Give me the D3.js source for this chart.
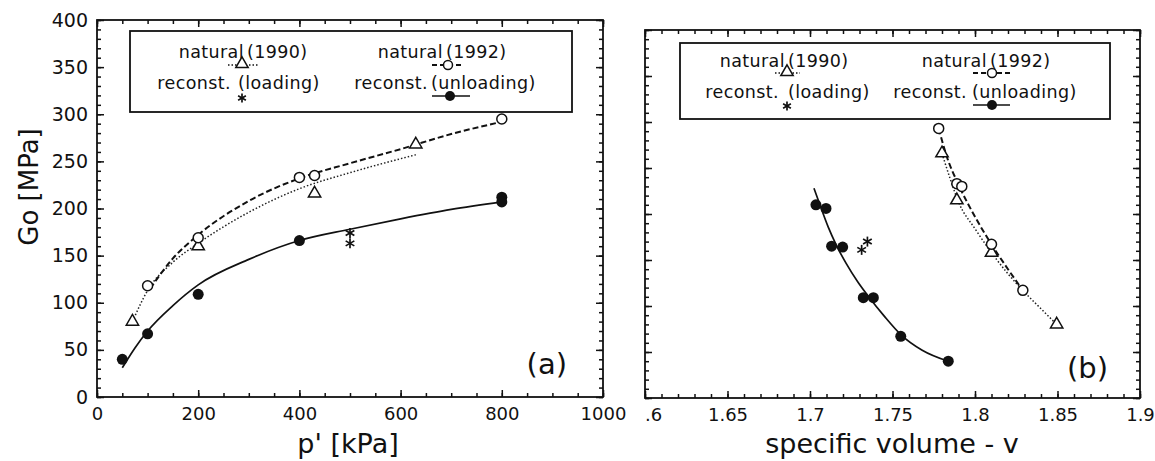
<!DOCTYPE html>
<html>
<head>
<meta charset="utf-8">
<script src="https://cdn.jsdelivr.net/npm/d3@7"></script>
<style>
  body { margin: 0; background: #fff; }
  text { font-family: "DejaVu Sans", sans-serif; fill: #111; }
</style>
</head>
<body>
<div id="chart"></div>
<script>
// ---- data ----
// panel (a): Go [MPa] against p' [kPa]
var nat1990P = [70, 200, 430, 630];
var nat1990G = [80, 160, 216, 268];
var nat1992P = [100, 200, 400, 430, 800];
var nat1992G = [118, 169, 233, 235, 295];
var unloadP = [50, 100, 200, 400, 800, 800];
var unloadG = [40, 67, 109, 166, 212, 207];
var loadP = [500, 500];
var loadG = [174, 163];

// fitted curves of panel (a)
var fitUnloadP = [50, 75, 100, 150, 200, 300, 400, 500, 600, 700, 800];
var fitUnloadG = [31, 52, 70, 97, 119, 146, 166, 178, 189, 199, 207];
var fit1992P = [105, 150, 200, 300, 400, 500, 600, 700, 800];
var fit1992G = [115, 147, 172, 208, 232, 248, 263, 279, 292];
var fit1990P = [70, 100, 150, 200, 300, 400, 500, 630];
var fit1990G = [80, 113, 143, 163, 196, 221, 238, 257];

// panel (b): Go [MPa] against specific volume v
var nat1990V = [1.780, 1.789, 1.810, 1.8495];
var nat1990Gv = [266, 215, 158, 80];
var nat1992V = [1.778, 1.789, 1.792, 1.810, 1.829];
var nat1992Gv = [293, 233, 230, 167, 117];
var unloadV = [1.7036, 1.7097, 1.7131, 1.7198, 1.7323, 1.7384, 1.755, 1.7838];
var unloadGv = [210, 206, 165, 164, 109, 109, 67, 40];
var loadV = [1.7313, 1.7348];
var loadGv = [161, 170];

// fitted curves of panel (b)
var fitUnloadV = [1.7024, 1.706, 1.711, 1.716, 1.722, 1.729, 1.736, 1.745, 1.755, 1.768, 1.7838];
var fitUnloadGv = [228, 210, 186, 166, 146, 126, 109, 89, 69, 52, 40];
var fit1992V = [1.778, 1.783, 1.790, 1.800, 1.810, 1.820, 1.829];
var fit1992Gv = [293, 262, 232, 197, 167, 140, 117];
var fit1990V = [1.780, 1.785, 1.790, 1.800, 1.810, 1.820, 1.830, 1.840, 1.8495];
var fit1990Gv = [266, 238, 213, 184, 158, 135, 115, 97, 80];

// ticks
var pTicks = [0, 200, 400, 600, 800, 1000];
var pMinor = d3.range(0, 1001, 50);
var gTicks = [0, 50, 100, 150, 200, 250, 300, 350, 400];
var gMinor = d3.range(0, 401, 10);
var vTicks = [1.6, 1.65, 1.7, 1.75, 1.8, 1.85, 1.9];
var vTickLabels = [".6", "1.65", "1.7", "1.75", "1.8", "1.85", "1.9"];
var vMinor = d3.range(160, 191).map(d => d / 100);

var legendLabels = [["natural", "(1990)"], ["natural", "(1992)"],
                    ["reconst.", "(loading)"], ["reconst.", "(unloading)"]];

function zip(a, b) { return a.map((d, i) => [d, b[i]]); }

// ---- svg ----
var svg = d3.select("#chart").append("svg")
  .attr("width", 1155)
  .attr("height", 461);

svg.append("rect").attr("width", 1155).attr("height", 461).attr("fill", "#fff");

var boxA = {left: 97, right: 603, top: 20, bottom: 397};
var boxB = {left: 645, right: 1140, top: 30, bottom: 398};

var xA = d3.scaleLinear().domain([0, 1000]).range([boxA.left, boxA.right]);
var yA = d3.scaleLinear().domain([0, 400]).range([boxA.bottom, boxA.top]);
var xB = d3.scaleLinear().domain([1.6, 1.9]).range([boxB.left, boxB.right]);
var yB = d3.scaleLinear().domain([0, 400]).range([boxB.bottom, boxB.top]);

// axes with inward ticks on all four sides
function drawAxes(x, y, box, xMajor, xMinor, xFmt, yLabels) {
  var g = svg.append("g");

  g.append("g").attr("class", "xlab").attr("transform", `translate(0,${box.bottom})`)
    .call(d3.axisBottom(x).tickValues(xMajor).tickSize(-7).tickSizeOuter(0).tickPadding(10).tickFormat(xFmt));
  g.append("g").attr("transform", `translate(0,${box.bottom})`)
    .call(d3.axisBottom(x).tickValues(xMinor).tickSize(-4).tickSizeOuter(0).tickFormat(""));
  g.append("g").attr("transform", `translate(0,${box.top})`)
    .call(d3.axisTop(x).tickValues(xMajor).tickSize(-7).tickSizeOuter(0).tickFormat(""));
  g.append("g").attr("transform", `translate(0,${box.top})`)
    .call(d3.axisTop(x).tickValues(xMinor).tickSize(-4).tickSizeOuter(0).tickFormat(""));

  g.append("g").attr("class", "ylab").attr("transform", `translate(${box.left},0)`)
    .call(d3.axisLeft(y).tickValues(gTicks).tickSize(-7).tickSizeOuter(0).tickPadding(9)
      .tickFormat(yLabels ? d3.format("d") : ""));
  g.append("g").attr("transform", `translate(${box.left},0)`)
    .call(d3.axisLeft(y).tickValues(gMinor).tickSize(-4).tickSizeOuter(0).tickFormat(""));
  g.append("g").attr("transform", `translate(${box.right},0)`)
    .call(d3.axisRight(y).tickValues(gTicks).tickSize(-7).tickSizeOuter(0).tickFormat(""));
  g.append("g").attr("transform", `translate(${box.right},0)`)
    .call(d3.axisRight(y).tickValues(gMinor).tickSize(-4).tickSizeOuter(0).tickFormat(""));

  g.selectAll(".domain").remove();
  g.selectAll(".tick line").attr("stroke", "#111").attr("stroke-width", 1.5);
  g.selectAll("g").attr("font-family", null).attr("font-size", null);
  g.selectAll(".xlab .tick text").attr("fill", "#111").style("font-size", "18px");
  g.selectAll(".ylab .tick text").attr("fill", "#111").style("font-size", "19px");

  g.append("rect")
    .attr("x", box.left).attr("y", box.top)
    .attr("width", box.right - box.left).attr("height", box.bottom - box.top)
    .attr("fill", "none").attr("stroke", "#111").attr("stroke-width", 1.8);
  return g;
}

drawAxes(xA, yA, boxA, pTicks, pMinor, d3.format("d"), true);
var axB = drawAxes(xB, yB, boxB, vTicks, vMinor, (d, i) => vTickLabels[i], false);
// the cut-off 1.6 label only shows ".6"
axB.selectAll(".tick text").filter(d => d === 1.6).attr("dx", 8);

// ---- markers ----
var triPath = d3.symbol(d3.symbolTriangle).size(66)();

function star(g, cx, cy, r) {
  var s = g.append("g").attr("transform", `translate(${cx},${cy})`);
  [90, 30, 150].forEach(function(a) {
    var t = a * Math.PI / 180;
    s.append("line")
      .attr("x1", -r * Math.cos(t)).attr("y1", -r * Math.sin(t))
      .attr("x2", r * Math.cos(t)).attr("y2", r * Math.sin(t))
      .attr("stroke", "#111").attr("stroke-width", 1.7);
  });
}

function drawPanel(x, y, d) {
  var g = svg.append("g");
  var line = d3.line().x(p => x(p[0])).y(p => y(p[1])).curve(d3.curveMonotoneX);

  g.append("path").datum(d.fit1990).attr("d", line)
    .attr("fill", "none").attr("stroke", "#222").attr("stroke-width", 1.5)
    .attr("stroke-dasharray", "1.5,2");
  g.append("path").datum(d.fit1992).attr("d", line)
    .attr("fill", "none").attr("stroke", "#111").attr("stroke-width", 2)
    .attr("stroke-dasharray", "6,3");
  g.append("path").datum(d.fitUnload).attr("d", line)
    .attr("fill", "none").attr("stroke", "#111").attr("stroke-width", 1.7);

  g.selectAll(".tri").data(d.nat1990).enter().append("path")
    .attr("d", triPath)
    .attr("transform", p => `translate(${x(p[0])},${y(p[1])})`)
    .attr("fill", "#fff").attr("stroke", "#111").attr("stroke-width", 1.5);
  g.selectAll(".oc").data(d.nat1992).enter().append("circle")
    .attr("cx", p => x(p[0])).attr("cy", p => y(p[1])).attr("r", 5)
    .attr("fill", "#fff").attr("stroke", "#111").attr("stroke-width", 1.5);
  g.selectAll(".fc").data(d.unload).enter().append("circle")
    .attr("cx", p => x(p[0])).attr("cy", p => y(p[1])).attr("r", 5.5)
    .attr("fill", "#111");
  d.load.forEach(p => star(g, x(p[0]), y(p[1]), 5));
}

drawPanel(xA, yA, {
  fit1990: zip(fit1990P, fit1990G), fit1992: zip(fit1992P, fit1992G), fitUnload: zip(fitUnloadP, fitUnloadG),
  nat1990: zip(nat1990P, nat1990G), nat1992: zip(nat1992P, nat1992G),
  unload: zip(unloadP, unloadG), load: zip(loadP, loadG)
});
drawPanel(xB, yB, {
  fit1990: zip(fit1990V, fit1990Gv), fit1992: zip(fit1992V, fit1992Gv), fitUnload: zip(fitUnloadV, fitUnloadGv),
  nat1990: zip(nat1990V, nat1990Gv), nat1992: zip(nat1992V, nat1992Gv),
  unload: zip(unloadV, unloadGv), load: zip(loadV, loadGv)
});

// ---- legends ----
function drawLegend(box, rows) {
  var g = svg.append("g");
  g.append("rect")
    .attr("x", box.x).attr("y", box.y).attr("width", box.w).attr("height", box.h)
    .attr("fill", "#fff").attr("stroke", "#111").attr("stroke-width", 1.8);
  rows.forEach(function(e, i) {
    var lab = legendLabels[i];
    g.append("text").attr("x", e.end).attr("y", e.base).attr("text-anchor", "end")
      .style("font-size", "17.5px").style("letter-spacing", "0.4px").text(lab[0]);
    g.append("text").attr("x", e.start).attr("y", e.base)
      .style("font-size", "17.5px").style("letter-spacing", "0.4px").text(lab[1]);
    if (e.line) {
      g.append("line").attr("x1", e.line[0]).attr("x2", e.line[1])
        .attr("y1", e.sy).attr("y2", e.sy)
        .attr("stroke", "#111").attr("stroke-width", e.lw).attr("stroke-dasharray", e.dash);
    }
    if (i === 0) {
      g.append("path").attr("d", triPath).attr("transform", `translate(${e.sx},${e.sy - 1})`)
        .attr("fill", "#fff").attr("stroke", "#111").attr("stroke-width", 1.5);
    } else if (i === 1) {
      g.append("circle").attr("cx", e.sx).attr("cy", e.sy).attr("r", 4.5)
        .attr("fill", "#fff").attr("stroke", "#111").attr("stroke-width", 1.5);
    } else if (i === 2) {
      star(g, e.sx, e.sy, 4.5);
    } else {
      g.append("circle").attr("cx", e.sx).attr("cy", e.sy).attr("r", 5).attr("fill", "#111");
    }
  });
}

drawLegend({x: 130, y: 31, w: 442, h: 81}, [
  {end: 244, start: 247, base: 58, sx: 242, sy: 65, line: [228, 258], lw: 1.5, dash: "1.5,2"},
  {end: 443, start: 446, base: 58, sx: 448, sy: 65, line: [432, 462], lw: 1.9, dash: "5,3"},
  {end: 231, start: 238, base: 89, sx: 242, sy: 98},
  {end: 428, start: 431, base: 89, sx: 450, sy: 96, line: [432, 470], lw: 1.7, dash: null}
]);
drawLegend({x: 680, y: 43, w: 430, h: 76}, [
  {end: 785, start: 788, base: 67, sx: 787, sy: 73, line: [775, 800], lw: 1.5, dash: "1.5,2"},
  {end: 987, start: 990, base: 67, sx: 992, sy: 73, line: [973, 1010], lw: 1.9, dash: "5,3"},
  {end: 779, start: 788, base: 98, sx: 787, sy: 106},
  {end: 967, start: 972, base: 98, sx: 992, sy: 105, line: [973, 1010], lw: 1.7, dash: null}
]);

// ---- panel tags and axis titles ----
svg.append("text").attr("x", 567).attr("y", 374).attr("text-anchor", "end")
  .style("font-size", "29px").text("(a)");
svg.append("text").attr("x", 1108).attr("y", 378).attr("text-anchor", "end")
  .style("font-size", "29px").text("(b)");

svg.append("text")
  .attr("transform", "translate(38,187) rotate(-90)")
  .attr("text-anchor", "middle")
  .style("font-size", "26px")
  .text("Go [MPa]");
svg.append("text").attr("x", 348).attr("y", 453).attr("text-anchor", "middle")
  .style("font-size", "27px").text("p' [kPa]");
svg.append("text").attr("x", 892).attr("y", 453).attr("text-anchor", "middle")
  .style("font-size", "27px").text("specific volume - v");
</script>
</body>
</html>
